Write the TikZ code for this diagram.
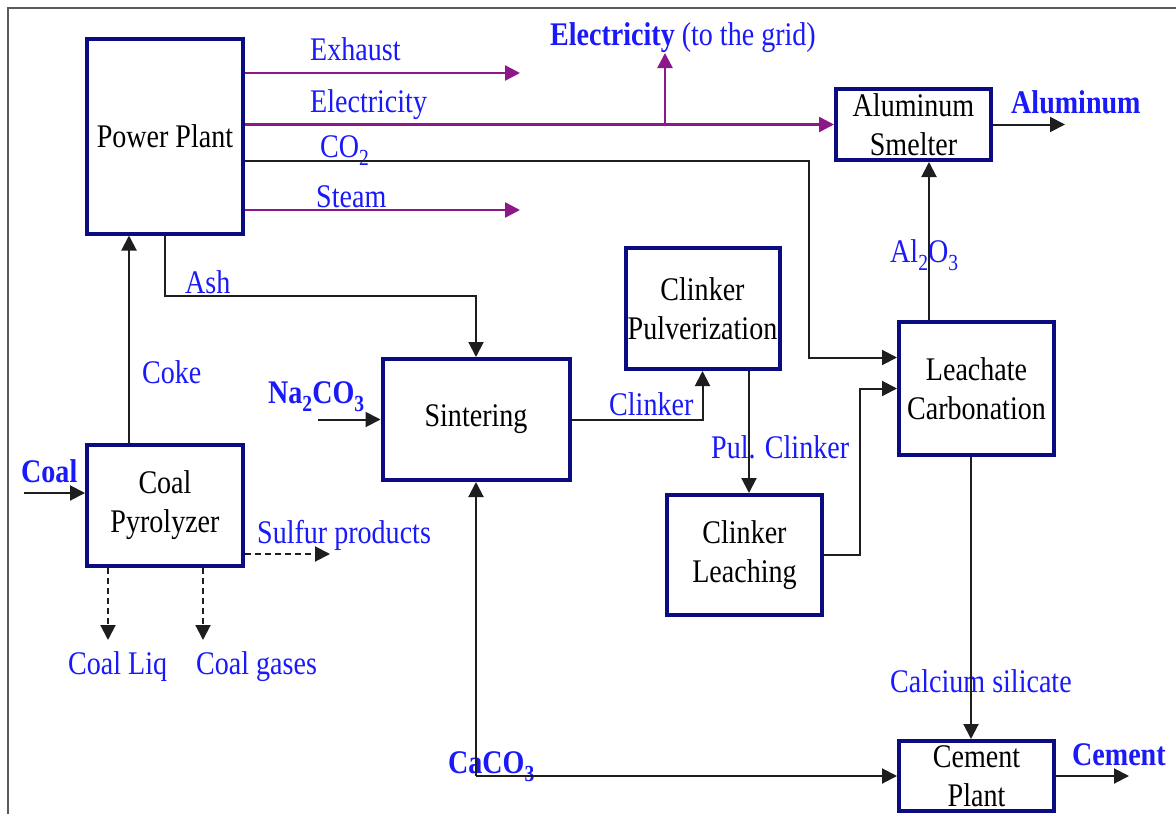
\documentclass[tikz,border=0pt]{standalone}
\usepackage{fontspec}
\setmainfont{Liberation Serif}[FakeStretch=0.85]
\usetikzlibrary{arrows.meta}
\definecolor{boxnavy}{RGB}{12,12,130}
\definecolor{lblblue}{RGB}{25,25,250}
\definecolor{flowpurple}{RGB}{140,25,135}
\definecolor{framegray}{RGB}{90,90,90}
\definecolor{flowblack}{RGB}{30,30,30}
% chemical subscript, set low as in the formula labels
\newcommand{\chemsub}[1]{\raisebox{-8pt}{\fontsize{23}{23}\selectfont #1}}

\begin{document}
\begin{tikzpicture}[x=1pt,y=-1pt,
  unit/.style={draw=boxnavy, line width=4pt, fill=white, inner sep=0pt,
    align=center, text=black, font=\fontsize{33}{39}\selectfont},
  lbl/.style={anchor=base west, inner sep=0pt, text=lblblue,
    font=\fontsize{33}{39}\selectfont},
  tip/.style={-{Triangle[length=15pt,width=15pt]}},
  flow/.style={draw=flowblack, line width=2pt, tip},
  power/.style={draw=flowpurple, line width=2.5pt,
    -{Triangle[length=15pt,width=15pt,fill=flowpurple]}},
  byprod/.style={draw=flowblack, line width=2pt, dash pattern=on 6pt off 4pt, tip}
]
\useasboundingbox (0,0) rectangle (1176,814);
\fill[white] (0,0) rectangle (1176,814);

% frame
\draw[framegray, line width=2pt] (8,820) -- (8,8) -- (1180,8);

% process units
\node[unit, minimum width=156pt, minimum height=195pt] (pp) at (165,136) {Power Plant};
\node[unit, minimum width=155pt, minimum height=71pt] (al) at (913.5,124.5) {Aluminum\\Smelter};
\node[unit, minimum width=155pt, minimum height=133pt] (lc) at (976.5,388.5) {Leachate\\Carbonation};
\node[unit, minimum width=154pt, minimum height=121pt] (cp) at (702.5,308.5) {Clinker\\Pulverization};
\node[unit, minimum width=187pt, minimum height=121pt] (sn) at (476,419.5) {Sintering};
\node[unit, minimum width=156pt, minimum height=121pt] (py) at (165,505.5) {Coal\\Pyrolyzer};
\node[unit, minimum width=155pt, minimum height=120pt] (cl) at (744.5,555) {Clinker\\Leaching};
\node[unit, minimum width=155pt, minimum height=70pt] (ce) at (976.5,776) {Cement\\Plant};

% stream labels
\node[lbl] (lexh) at (310,60) {Exhaust};
\node[lbl] (lel) at (310,112) {Electricity};
\node[lbl] (lco2) at (320,157) {CO\chemsub{2}};
\node[lbl] (lstm) at (316,207) {Steam};
\node[lbl] (lgrid) at (550,45) {\textbf{Electricity} (to the grid)};
\node[lbl] (lalu) at (1011,113) {\textbf{Aluminum}};
\node[lbl] (lal2o3) at (890,262) {Al\chemsub{2}O\chemsub{3}};
\node[lbl] (lash) at (185,293) {Ash};
\node[lbl] (lcoke) at (142,383) {Coke};
\node[lbl] (lna) at (268,403) {\textbf{Na\chemsub{2}CO\chemsub{3}}};
\node[lbl] (lclk) at (609,415) {Clinker};
\node[lbl] (lpul) at (711,458) {Pul. Clinker};
\node[lbl] (lcoal) at (21,482) {\textbf{Coal}};
\node[lbl] (lsul) at (257,543) {Sulfur products};
\node[lbl] (lliq) at (68,674) {Coal Liq};
\node[lbl] (lgas) at (196,674) {Coal gases};
\node[lbl] (lcas) at (890,692) {Calcium silicate};
\node[lbl] (lcem) at (1072,765) {\textbf{Cement}};
\node[lbl] (lcac) at (448,773) {\textbf{CaCO\chemsub{3}}};

% free ends and bends
\coordinate (exh) at (520,73);
\coordinate (stm) at (520,210);
\coordinate (grid) at (665,53);
\coordinate (co2) at (809,161);
\coordinate (alx) at (929,0);
\coordinate (alout) at (1065,0);
\coordinate (csx) at (971,0);
\coordinate (plx) at (749,0);
\coordinate (ckx) at (129,0);
\coordinate (coalin) at (24,493);
\coordinate (na) at (318,419.5);
\coordinate (sul) at (330,554);
\coordinate (liq) at (108,640);
\coordinate (gas) at (203,640);
\coordinate (cac) at (476,776);
\coordinate (ceout) at (1129,0);

% power plant outputs
\draw[power] (pp.east |- exh) -- (exh);
\draw[power] (pp.east |- al.west) -- (al.west);
\draw[power] (grid |- al.west) -- (grid);
\draw[power] (pp.east |- stm) -- (stm);
\draw[flow] (pp.east |- co2) -- (co2) |- ([yshift=31pt]lc.west);

% alumina route
\draw[flow] (alx |- lc.north) -- (alx |- al.south);
\draw[flow] (al.east) -- (alout |- al.east);
\draw[flow] (pp.south) -- ++(0,60) -| (sn.north);
\draw[flow] (ckx |- py.north) -- (ckx |- pp.south);
\draw[flow] (coalin) -- (coalin -| py.west);
\draw[flow] (na) -- (na -| sn.west);
\draw[flow] (sn.east) -| (cp.south);
\draw[flow] (plx |- cp.south) -- (plx |- cl.north);
\draw[flow] (cl.east) -- ++(36,0) |- (lc.west);

% cement route
\draw[flow] (csx |- lc.south) -- (csx |- ce.north);
\draw[flow] (cac) -- (cac -| ce.west);
\draw[flow] (cac) -- (cac |- sn.south);
\draw[flow] (ce.east) -- (ceout |- ce.east);

% pyrolyzer by-products
\draw[byprod] (py.east |- sul) -- (sul);
\draw[byprod] (liq |- py.south) -- (liq);
\draw[byprod] (gas |- py.south) -- (gas);
\end{tikzpicture}
\end{document}
